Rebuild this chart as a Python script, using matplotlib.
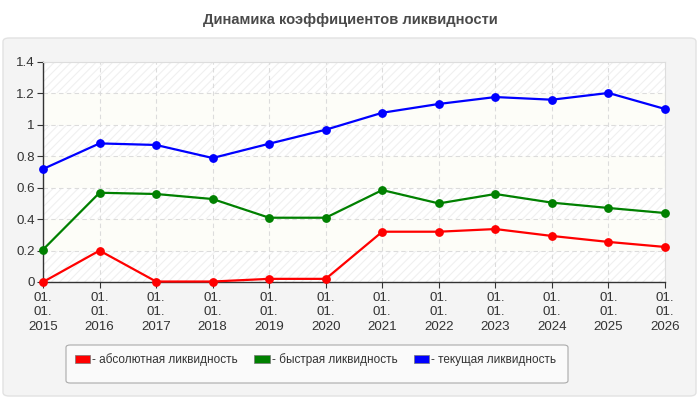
import numpy as np
import matplotlib.pyplot as plt
import matplotlib as mpl
from matplotlib.patches import FancyBboxPatch, Patch

mpl.rcParams['font.family'] = ['Liberation Sans', 'DejaVu Sans']
mpl.rcParams['hatch.linewidth'] = 0.8

# data
years = [2015, 2016, 2017, 2018, 2019, 2020, 2021, 2022, 2023, 2024, 2025, 2026]
tick_labels = ["01.\n01.\n%d" % y for y in years]
absolute = [0.0, 0.20, 0.003, 0.003, 0.02, 0.02, 0.32, 0.32, 0.337, 0.293, 0.255, 0.223]
quick = [0.206, 0.568, 0.56, 0.528, 0.409, 0.409, 0.585, 0.50, 0.56, 0.505, 0.471, 0.439]
current = [0.719, 0.882, 0.872, 0.789, 0.88, 0.969, 1.077, 1.133, 1.177, 1.160, 1.203, 1.101]

series = [(absolute, '#ff0000', '- абсолютная ликвидность'),
          (quick, '#008000', '- быстрая ликвидность'),
          (current, '#0000ff', '- текущая ликвидность')]

W, H = 700, 400
fig = plt.figure(figsize=(W / 100, H / 100), dpi=100)
fig.patch.set_facecolor('white')

# grey rounded panel behind the chart
panel = FancyBboxPatch((3 / W, 4 / H), 693 / W, 358 / H,
                       boxstyle="round,pad=0,rounding_size=0.009",
                       transform=fig.transFigure, facecolor='#f4f4f4',
                       edgecolor='#e2e2e2', linewidth=1.0, zorder=-3)
fig.patches.append(panel)

fig.text(0.5, 1 - 20 / H, 'Динамика коэффициентов ликвидности', ha='center', va='center',
         fontsize=10.6, fontweight='bold', color='#4a4a4a')

ax = fig.add_axes([43 / W, 118 / H, 622 / W, 220 / H])
ax.set_facecolor('white')

x = np.arange(len(years))
ax.set_xlim(x[0], x[-1])
ax.set_ylim(0, 1.4)

# alternating background bands
yt = np.round(np.arange(0, 1.41, 0.2), 1)
for i in range(len(yt) - 1):
    if i % 2 == 0:
        ax.axhspan(yt[i], yt[i + 1], facecolor='white', edgecolor='#f0f0f0',
                   hatch='////', linewidth=0, zorder=0)
    else:
        ax.axhspan(yt[i], yt[i + 1], facecolor='#fdfdf8', edgecolor='none',
                   linewidth=0, zorder=0)

ax.grid(True, linestyle=(0, (4, 3)), color='#dcdcdc', linewidth=0.8, zorder=1)
ax.set_axisbelow(True)

for vals, col, lab in series:
    ax.plot(x, vals, color=col, lw=1.6, marker='o', ms=5.3, zorder=3, clip_on=False)

ax.set_yticks(yt)
ax.set_yticklabels(['0', '0.2', '0.4', '0.6', '0.8', '1', '1.2', '1.4'])
ax.set_xticks(x)
ax.set_xticklabels(tick_labels)
ax.tick_params(axis='both', labelsize=9.6, colors='#333333', length=4, width=0.8)
ax.tick_params(axis='y', pad=2)
ax.tick_params(axis='x', pad=3)
for t in ax.get_xticklabels():
    t.set_linespacing(1.3)

for s in ['top', 'right']:
    ax.spines[s].set_color('#dddddd')
    ax.spines[s].set_linewidth(0.8)
for s in ['left', 'bottom']:
    ax.spines[s].set_color('#333333')
    ax.spines[s].set_linewidth(1.0)

# legend box
box = FancyBboxPatch((66 / W, (H - 383) / H), 502 / W, 38 / H,
                     boxstyle="round,pad=0,rounding_size=0.006",
                     transform=fig.transFigure, facecolor='#fafafa',
                     edgecolor='#aaaaaa', linewidth=0.8, zorder=-1)
fig.patches.append(box)

handles = [Patch(facecolor=c, edgecolor='#777777', linewidth=0.5) for _, c, _ in series]
labels = [l for _, _, l in series]
fig.legend(handles, labels, loc='center left', bbox_to_anchor=(75 / W, 1 - 360 / H),
           ncol=3, frameon=False, fontsize=8.5, handlelength=1.3, handleheight=0.65,
           handletextpad=0.15, columnspacing=1.4, labelcolor='#333333', borderpad=0,
           borderaxespad=0)

fig.savefig('out.png', dpi=100, facecolor='white')
